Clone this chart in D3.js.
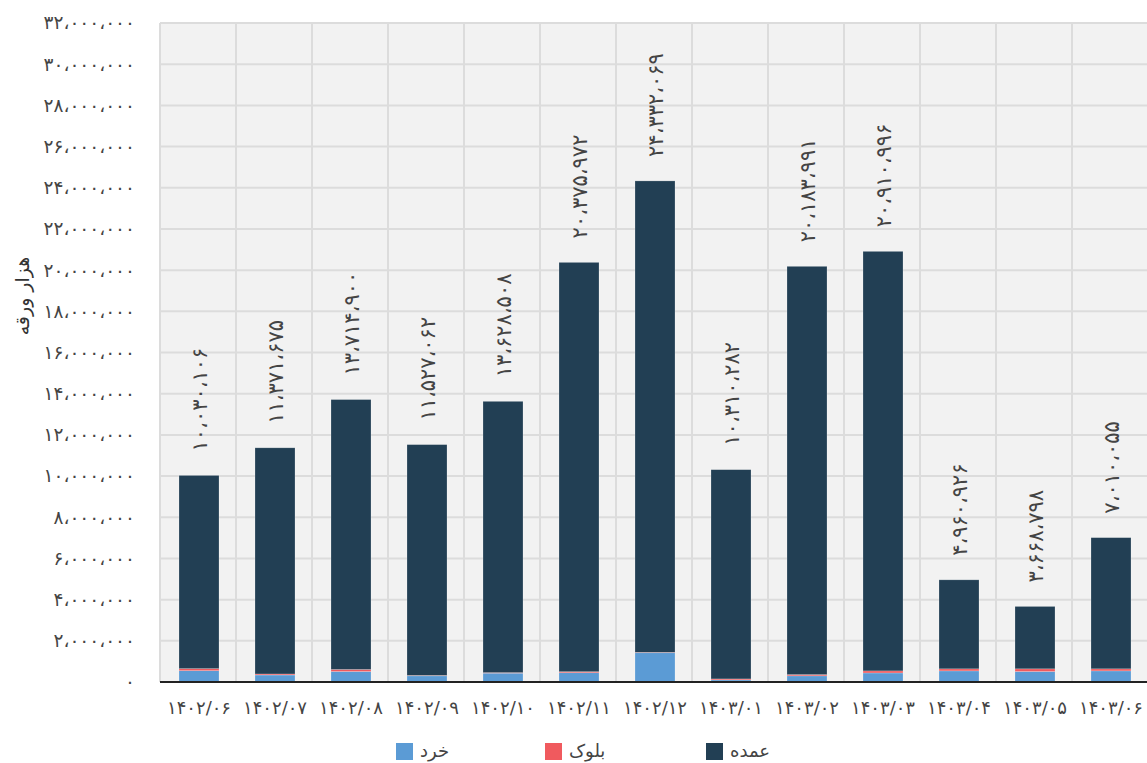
<!DOCTYPE html>
<html><head><meta charset="utf-8">
<script src="https://cdn.jsdelivr.net/npm/d3@7"></script>
<style>
body{margin:0;background:#fff;}
svg{display:block;font-family:"DejaVu Sans",sans-serif;}
</style></head><body>
<svg id="c" width="1147" height="763"></svg>
<script>
const categories = ["1402/06","1402/07","1402/08","1402/09","1402/10","1402/11","1402/12","1403/01","1403/02","1403/03","1403/04","1403/05","1403/06"];
const totals = [10030106,11371675,13714900,11527062,13628508,20375972,24332069,10310282,20183991,20910996,4960926,3668798,7010055];
const khord = [550000,340000,510000,300000,430000,450000,1420000,100000,300000,440000,540000,510000,540000];
const block = [100000,50000,100000,20000,25000,50000,20000,50000,60000,100000,100000,130000,100000];
const omdeh = totals.map((t,i)=>t-khord[i]-block[i]);
const seriesNames = ["خرد","بلوک","عمده"];
const seriesColors = ["#5b9bd5","#f05a5e","#223f54"];
const yTicks = d3.range(0, 32000001, 2000000);

const fa = s => String(s).replace(/[0-9]/g, d => "۰۱۲۳۴۵۶۷۸۹"[d]);
const fmt = v => fa(d3.format(",")(v)).replace(/,/g, "،");

const svg = d3.select("#c");
const L = 160, R = 1148, T = 23, B = 682;
const x = d3.scaleBand().domain(categories).range([L, R]).paddingInner(0).paddingOuter(0);
const y = d3.scaleLinear().domain([0, 32000000]).range([B, T]);

svg.append("rect").attr("x", L).attr("y", T).attr("width", R - L).attr("height", B - T).attr("fill", "#f2f2f2");
svg.append("g").selectAll("line").data(yTicks).join("line")
  .attr("x1", L).attr("x2", R).attr("y1", d => y(d)).attr("y2", d => y(d))
  .attr("stroke", "#dcdcdc").attr("stroke-width", 2);
svg.append("g").selectAll("line").data(categories).join("line")
  .attr("x1", d => x(d)).attr("x2", d => x(d)).attr("y1", T).attr("y2", B)
  .attr("stroke", "#dcdcdc").attr("stroke-width", 2);

const rows = categories.map((c,i)=>({cat:c, "خرد":khord[i], "بلوک":block[i], "عمده":omdeh[i]}));
const stack = d3.stack().keys(seriesNames)(rows);
const bw = 40;
svg.append("g").selectAll("g").data(stack).join("g")
  .attr("fill", (d,i) => seriesColors[i])
  .selectAll("rect").data(d => d).join("rect")
  .attr("x", d => x(d.data.cat) + x.bandwidth()/2 - bw/2 + 1)
  .attr("width", bw)
  .attr("y", d => y(d[1]))
  .attr("height", d => y(d[0]) - y(d[1]))
  .attr("stroke", "rgba(255,255,255,0.35)").attr("stroke-width", 0.6);

svg.append("line").attr("x1", L).attr("x2", R).attr("y1", B).attr("y2", B).attr("stroke", "#222").attr("stroke-width", 2);

const yAxis = d3.axisLeft(y).tickValues(yTicks).tickSize(0).tickPadding(0).tickFormat(fmt);
const gy = svg.append("g").attr("transform", `translate(135,0)`).call(yAxis);
gy.select(".domain").remove();
gy.selectAll("text").attr("font-size", 18.5).attr("fill", "#444").attr("font-family", "DejaVu Sans");

const xAxis = d3.axisBottom(x).tickSize(0).tickPadding(0).tickFormat(d => fa(d));
const gx = svg.append("g").attr("transform", `translate(1,${B + 19})`).call(xAxis);
gx.select(".domain").remove();
gx.selectAll("text").attr("font-size", 18).attr("fill", "#444").attr("font-family", "DejaVu Sans").attr("direction", "ltr");

svg.append("text").attr("transform", "translate(29,296) rotate(-90)")
  .attr("text-anchor", "middle").attr("font-size", 19).attr("fill", "#333").text("هزار ورقه");

svg.append("g").selectAll("text").data(categories).join("text")
  .attr("transform", (d,i) => `translate(${x(d) + x.bandwidth()/2 + 9},${y(totals[i]) - 24}) rotate(-90)`)
  .attr("text-anchor", "start").attr("font-size", 21).attr("fill", "#444").attr("direction", "ltr")
  .text((d,i) => fmt(totals[i]));

const legX = [396, 545, 706];
const lg = svg.append("g").selectAll("g").data(seriesNames).join("g")
  .attr("transform", (d,i) => `translate(${legX[i]},743)`);
lg.append("rect").attr("width", 17).attr("height", 17).attr("fill", (d,i) => seriesColors[i]);
lg.append("text").attr("x", 24).attr("y", 14).attr("font-size", 18).attr("fill", "#444").text(d => d);
</script>
</body></html>
